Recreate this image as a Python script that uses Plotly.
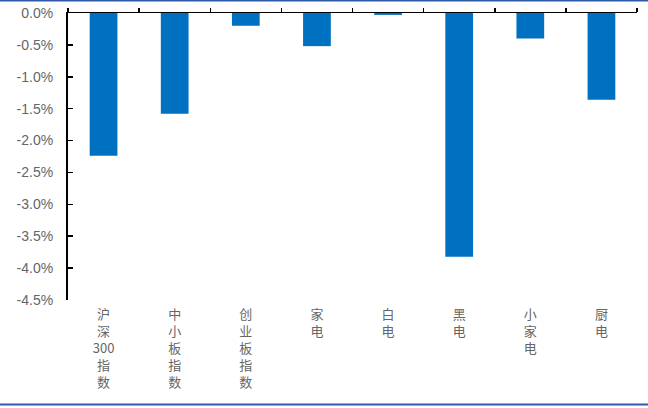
import plotly.graph_objects as go

categories = ["沪深300指数", "中小板指数", "创业板指数", "家电", "白电", "黑电", "小家电", "厨电"]
values = [-2.24, -1.58, -0.20, -0.52, -0.03, -3.82, -0.40, -1.36]
y_ticks = [0, -0.5, -1.0, -1.5, -2.0, -2.5, -3.0, -3.5, -4.0, -4.5]
y_tick_labels = ["%.1f%%" % v for v in y_ticks]

def stack(s):
    parts = []
    buf = ""
    for ch in s:
        if ch.isdigit():
            buf += ch
        else:
            if buf:
                parts.append(buf)
                buf = ""
            parts.append(ch)
    if buf:
        parts.append(buf)
    return "<br>".join(parts)

x_pos = list(range(len(categories)))
boundaries = [i - 0.5 for i in range(len(categories) + 1)]

fig = go.Figure()
fig.add_trace(go.Bar(
    x=x_pos, y=values, width=0.39,
    marker=dict(color="#0070C0", line=dict(width=0)),
    showlegend=False, hoverinfo="skip",
))

W, H = 648, 408
L, R, T, B = 68, 11, 13, 108
pw, ph = W - L - R, H - T - B

fig.update_layout(
    width=W, height=H,
    margin=dict(l=L, r=R, t=T, b=B),
    paper_bgcolor="white", plot_bgcolor="white",
    font=dict(family="Liberation Sans, Arial, Noto Sans CJK SC", color="#595959"),
    xaxis=dict(
        range=[-0.5, len(categories) - 0.5],
        tickmode="array", tickvals=x_pos,
        ticktext=[stack(c) for c in categories],
        tickangle=0, automargin=False,
        showline=False, ticks="", showgrid=False, zeroline=False,
        tickfont=dict(size=13, family="Noto Sans CJK SC", color="#666666"),
        ticklabelstandoff=5,
    ),
    xaxis2=dict(
        overlaying="x", side="top", anchor="y", automargin=False,
        range=[-0.5, len(categories) - 0.5],
        tickmode="array", tickvals=boundaries,
        showticklabels=False, ticks="outside", ticklen=4, tickwidth=1.5,
        tickcolor="black",
        showline=True, linecolor="black", linewidth=1.5,
        showgrid=False, zeroline=False,
    ),
    yaxis=dict(
        range=[-4.5, 0], automargin=False,
        tickmode="array", tickvals=y_ticks, ticktext=y_tick_labels,
        showline=True, linecolor="black", linewidth=2,
        ticks="inside", ticklen=5, tickwidth=1.5, tickcolor="black",
        showgrid=False, zeroline=False,
        tickfont=dict(size=14, family="Liberation Sans, Arial", color="#666666"),
        ticklabelstandoff=10,
    ),
    shapes=[
        dict(type="line", xref="paper", yref="paper", x0=-L/pw, x1=1 + R/pw,
             y0=1 + (T - 0.8)/ph, y1=1 + (T - 0.8)/ph, line=dict(color="#2E5AA8", width=1.5)),
        dict(type="line", xref="paper", yref="paper", x0=-L/pw, x1=1 + R/pw,
             y0=-(B - 3.5)/ph, y1=-(B - 3.5)/ph, line=dict(color="#2E5AA8", width=2)),
    ],
)
fig.add_trace(go.Scatter(x=[None], y=[None], xaxis="x2", yaxis="y", showlegend=False, hoverinfo="skip"))

fig.write_html("out.html", config={"displayModeBar": False, "staticPlot": True},
               post_script="document.body.style.margin='0';document.body.style.padding='0';")
